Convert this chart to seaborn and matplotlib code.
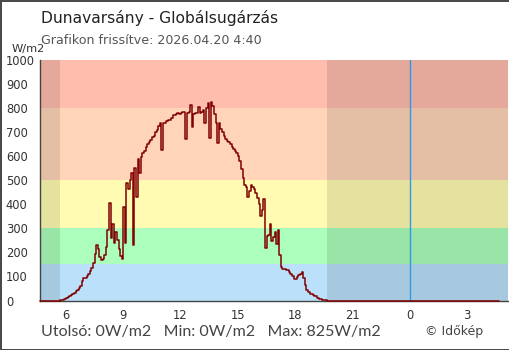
import matplotlib
matplotlib.use("Agg")
import matplotlib.pyplot as plt
import pandas as pd
import seaborn as sns

# ---- data -------------------------------------------------------------
station = "Dunavarsány"
quantity = "Globálsugárzás"
updated = "2026.04.20 4:40"
unit = "W/m2"

window_start = "2026-04-19 04:40"
window_end = "2026-04-20 04:40"
first_reading = "2026-04-19 05:40"
sunrise = "2026-04-19 05:41"
sunset = "2026-04-19 19:40"
midnight = "2026-04-20 00:00"

# 5-minute global radiation readings, W/m2, from 05:40 to 19:40
irradiance = [
    1, 2, 3, 6,
    12, 15, 20, 23, 27, 32, 38, 45, 52, 62, 82, 92,
    95, 103, 110, 122, 135, 158, 195, 230, 215, 182, 170, 172,
    188, 222, 292, 405, 260, 320, 240, 285, 250, 215, 185, 172,
    390, 240, 490, 465, 500, 530, 232, 550, 430, 590, 530, 598,
    612, 620, 640, 650, 660, 668, 680, 685, 700, 708, 725, 736,
    625, 736, 740, 745, 750, 752, 760, 770, 772, 775, 778, 776,
    780, 785, 782, 670, 780, 785, 812, 720, 775, 780, 778, 806,
    780, 785, 792, 740, 799, 820, 675, 825, 810, 775, 740, 655,
    740, 715, 700, 685, 670, 665, 660, 652, 640, 630, 620, 612,
    600, 580, 548, 510, 482, 472, 430, 455, 480, 470, 465, 448,
    425, 400, 350, 378, 424, 220, 268, 272, 320, 248, 262, 285,
    236, 292, 188, 140, 132, 130, 128, 125, 118, 112, 100, 90,
    88, 97, 105, 112, 118, 92, 65, 45, 34, 28, 26, 24,
    20, 17, 12, 8, 5, 3, 2, 1, 0,
]

band_edges = [0, 150, 300, 500, 800, 1000]
band_colors = ["#bbe0fa", "#abfebb", "#fffbb2", "#ffd4b9", "#ffbdae"]
y_ticks = [0, 100, 200, 300, 400, 500, 600, 700, 800, 900, 1000]
hour_ticks = [6, 9, 12, 15, 18, 21, 24, 27]

# ---- frame --------------------------------------------------------------
day0 = pd.Timestamp("2026-04-19 00:00")


def hours(ts):
    return (pd.Timestamp(ts) - day0) / pd.Timedelta(hours=1)


stamps = pd.date_range(first_reading, periods=len(irradiance), freq="5min")
frame = pd.DataFrame({
    "hour": [hours(window_start)] + [hours(t) for t in stamps] + [hours(window_end)],
    "value": [0] + irradiance + [0],
})

sns.set_style("white")
plt.rcParams["font.family"] = ["DejaVu Sans"]

W, H = 510, 350
fig = plt.figure(figsize=(W / 100, H / 100), dpi=100)
fig.patch.set_facecolor("white")
fig.patch.set_edgecolor("#4a4a4a")
fig.patch.set_linewidth(2)

ax_l, ax_r, ax_t, ax_b = 40.5, 508.2, 60.0, 300.5
ax = fig.add_axes([ax_l / W, 1 - ax_b / H, (ax_r - ax_l) / W, (ax_b - ax_t) / H])

x0, x1 = hours(window_start), 29.15
ax.set_xlim(x0, x1)
ax.set_ylim(0, 1000)

# radiation category bands
for lo, hi, c in zip(band_edges[:-1], band_edges[1:], band_colors):
    ax.axhspan(lo, hi, color=c, lw=0, zorder=0)

# night shading
ax.axvspan(x0, hours(sunrise), color="black", alpha=0.1, lw=0, zorder=1)
ax.axvspan(hours(sunset), x1, color="black", alpha=0.1, lw=0, zorder=1)

# midnight marker
ax.axvline(hours(midnight), color="#2b9be8", lw=1.0, zorder=2)

sns.lineplot(data=frame, x="hour", y="value", ax=ax, estimator=None,
             drawstyle="steps-post", color="#800000", lw=1.1, zorder=5)
for ln in ax.lines:
    ln.set_clip_on(False)

ax.set_xlabel("")
ax.set_ylabel("")
ax.set_xticks(hour_ticks)
ax.set_xticklabels([str(h % 24) for h in hour_ticks])
ax.set_yticks(y_ticks)
ax.set_yticklabels([str(v) for v in y_ticks])

for s in ("top", "right"):
    ax.spines[s].set_visible(False)
for s in ("left", "bottom"):
    ax.spines[s].set_color("#444444")
    ax.spines[s].set_linewidth(1.0)
    ax.spines[s].set_zorder(4)

ax.tick_params(axis="y", direction="inout", length=10, width=1, color="#444444",
               labelsize=8.3, labelcolor="#333333", pad=20)
ax.tick_params(axis="x", direction="inout", length=8.6, width=1, color="#444444",
               labelsize=8.3, labelcolor="#333333", pad=2)
for lab in ax.get_yticklabels():
    lab.set_horizontalalignment("left")
ax.grid(False)


def ftext(x, y, s, **kw):
    fig.text(x / W, 1 - y / H, s, va="center", ha=kw.pop("ha", "left"), **kw)


ftext(41, 18, f"{station} - {quantity}", fontsize=11.2, color="#222222")
ftext(41, 41, f"Grafikon frissítve: {updated}", fontsize=9.1, color="#555555")
ftext(12, 49, unit, fontsize=8.2, color="#333333")

last_v, min_v, max_v = irradiance[-1], min(irradiance), max(irradiance)
ftext(41, 332, f"Utolsó: {last_v}{unit}   Min: {min_v}{unit}   Max: {max_v}{unit}",
      fontsize=11.5, color="#444444", family=["Lato", "DejaVu Sans"])
ftext(425, 331, "© Időkép", fontsize=9, color="#444444")

fig.savefig("out.png", dpi=100, facecolor=fig.get_facecolor(),
            edgecolor=fig.get_edgecolor())
